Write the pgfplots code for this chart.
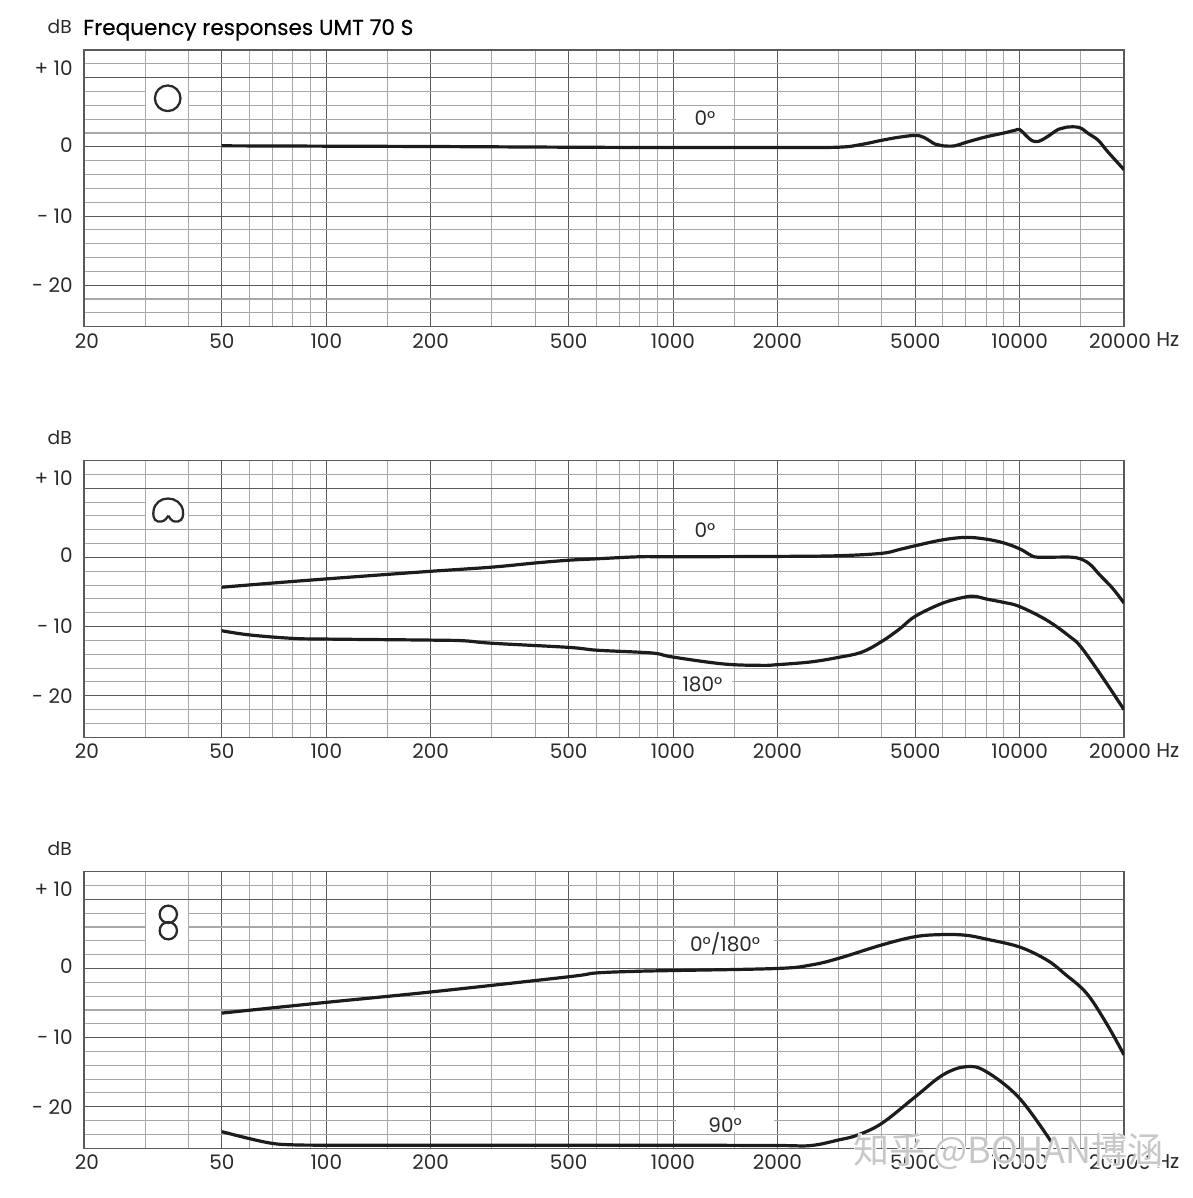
\documentclass[border=0pt]{standalone}
\usepackage{fontspec}
\setmainfont{Poppins}
\newfontfamily\titlefont[FakeBold=0.4]{Poppins}
\newfontfamily\wm{Noto Sans CJK SC}
\newfontfamily\wmhalo[FakeBold=4]{Noto Sans CJK SC}
\usepackage{pgfplots}
\pgfplotsset{compat=1.18}
\definecolor{gridmajor}{HTML}{5A5A5A}
\definecolor{gridminor}{HTML}{A8A8A8}
\definecolor{curve}{HTML}{1C1C1C}
\definecolor{ink}{HTML}{2A2A2A}

% all three panels share the same frame
\pgfplotsset{every axis/.append style={
    xmode=log,
    xmin=20, xmax=20000, ymin=-26, ymax=14,
    scale only axis, width=780pt, height=207.5pt,
    anchor=south west,
    xtick={20,50,100,200,500,1000,2000,5000,10000,20000},
    xticklabels={\kern4.5pt 20,50,100,200,500,1000,2000,5000,10000,20000\kern6pt},
    minor xtick={30,40,60,70,80,90,150,300,400,600,700,800,900,1500,3000,4000,6000,7000,8000,9000,15000},
    ytick={-20,-10,0,10},
    yticklabels={- 20,- 10,\raisebox{3pt}{0},\raisebox{15pt}{+\kern4pt 10}},
    minor ytick={-24,-22,-18,-16,-14,-12,-8,-6,-4,-2,2,4,6,8,12},
    grid=both,
    major grid style={draw=gridmajor,line width=0.75pt},
    minor grid style={draw=gridminor,line width=0.8pt},
    axis line style={draw=gridmajor,line width=1.1pt},
    major tick length=0pt, minor tick length=0pt,
    tick label style={font=\fontsize{15}{17}\selectfont\color{ink}},
    xticklabel style={yshift=-1.5pt},
    yticklabel style={xshift=-5pt},
}}
\pgfplotsset{rcurve/.style={draw=curve,line width=2.4pt,smooth,tension=0.6,mark=none}}
\tikzset{
    glabel/.style={font=\fontsize{15}{17}\selectfont\color{ink},inner sep=0pt},
    sym/.style={draw=ink,line width=1.7pt},
}

\begin{document}
\begin{tikzpicture}

\begin{axis}[at={(63pt,653.475pt)}]
\addplot[rcurve] coordinates {
 (50,0.15)(100,0.1)(200,0.05)(500,-0.05)(1000,-0.1)(2000,-0.1)(3000,-0.05)(3500,0.35)(4000,0.95)(4500,1.4)(5000,1.65)
 (5300,1.35)(5700,0.4)(6000,0.15)(6500,0.15)(7000,0.65)(8000,1.45)(9000,2.0)(9700,2.4)(10000,2.5)
 (10400,1.7)(10850,0.9)(11350,0.8)(12000,1.45)(12950,2.55)(13650,2.85)(14850,2.8)(15800,1.9)(16850,0.95)(17950,-0.7)(20000,-3.3)};
\fill[white] (axis cs:1020,2.3) rectangle (axis cs:1480,5.7);
\node[glabel] at (axis cs:1236,4.15) {0°};
\end{axis}

\begin{axis}[at={(63pt,345.525pt)}]
\addplot[rcurve] coordinates {
 (50,-4.3)(70,-3.7)(100,-3.1)(150,-2.45)(200,-2.0)(300,-1.4)(400,-0.8)(500,-0.4)(600,-0.2)(800,0.1)(1000,0.1)(2000,0.15)(3000,0.25)
 (4000,0.6)(4500,1.15)(5000,1.7)(6000,2.55)(7000,2.9)(8000,2.65)(9000,2.1)(10000,1.25)(10700,0.4)(11200,0.05)(13000,0.05)(14000,0.05)
 (15000,-0.2)(16000,-1.05)(17000,-2.5)(18500,-4.4)(20000,-6.6)};
\addplot[rcurve] coordinates {
 (50,-10.6)(60,-11.2)(80,-11.7)(100,-11.8)(200,-11.95)(250,-12.05)(300,-12.4)(500,-13.0)(600,-13.4)(800,-13.7)(900,-13.9)(1000,-14.4)
 (1400,-15.4)(1800,-15.6)(2000,-15.5)(2500,-15.1)(3000,-14.45)(3500,-13.7)(4000,-12.15)(4500,-10.35)(5000,-8.5)(6000,-6.6)(7000,-5.7)
 (7500,-5.65)(8000,-6.0)(9000,-6.5)(10000,-7.1)(12000,-9.1)(14000,-11.5)(15000,-12.9)(17000,-16.7)(20000,-22.0)};
\fill[white] (axis cs:1020,2.3) rectangle (axis cs:1480,5.7);
\fill[white] (axis cs:1020,-16.8) rectangle (axis cs:1480,-19.8);
\node[glabel] at (axis cs:1236,4.0) {0°};
\node[glabel] at (axis cs:1216,-18.3) {180°};
\end{axis}

\begin{axis}[at={(63pt,37.275pt)}]
\addplot[rcurve] coordinates {
 (50,-6.45)(100,-4.9)(200,-3.4)(500,-1.2)(600,-0.65)(800,-0.4)(1000,-0.3)(2000,0)(2500,0.5)(3000,1.45)(4000,3.4)(5000,4.6)(6000,4.9)
 (7000,4.8)(8000,4.25)(10000,3.1)(12000,1.2)(13500,-0.8)(15600,-3.6)(17800,-7.95)(20000,-12.5)};
\addplot[rcurve] coordinates {
 (50,-23.6)(60,-24.6)(70,-25.3)(80,-25.5)(100,-25.55)(200,-25.55)(500,-25.55)(1000,-25.55)(2000,-25.6)(2500,-25.6)(3000,-24.8)
 (3400,-24.1)(4000,-22.4)(5000,-18.55)(6000,-15.4)(7000,-14.2)(8000,-14.9)(10000,-18.8)(12500,-25.5)};
\fill[white] (axis cs:1020,2.2) rectangle (axis cs:1960,5.8);
\fill[white] (axis cs:1020,-20.5) rectangle (axis cs:1960,-23.7);
\node[glabel] at (axis cs:1414,3.5) {0°/180°};
\node[glabel] at (axis cs:1414,-22.6) {90°};
\end{axis}

\begin{scope}[x=0.75pt,y=-0.75pt,shift={(0pt,898.5pt)}]
\path[use as bounding box] (0,0) rectangle (1192,1198);

% polar pattern symbols, each on a white patch
\fill[white] (146,81) rectangle (187.6,113);
\draw[sym] (167.7,98.3) circle[radius=9.6pt];
\fill[white] (146,492) rectangle (187.6,527);
\draw[sym] (168.3,515.7) .. controls (165,521.5) and (162,522) .. (158,521.5)
  .. controls (153,520.5) and (153,514) .. (153.5,511)
  .. controls (154.5,503) and (161,498.5) .. (168,498.5)
  .. controls (175,498.5) and (182,503) .. (183,511)
  .. controls (183.5,515) and (183,520.5) .. (178,521.5)
  .. controls (174,522) and (171.5,521.5) .. (168.3,515.7);
\fill[white] (146,900) rectangle (187.6,945);
\draw[sym] (168.3,914.3) circle[radius=6.5pt];
\draw[sym] (168.3,930.7) circle[radius=6.5pt];

% texts outside the axes
\node[anchor=base east,inner sep=0pt,font=\fontsize{14}{16}\selectfont\color{ink}] at (72,34) {dB};
\node[anchor=base east,inner sep=0pt,font=\fontsize{14}{16}\selectfont\color{ink}] at (72,445) {dB};
\node[anchor=base east,inner sep=0pt,font=\fontsize{14}{16}\selectfont\color{ink}] at (72,856) {dB};
\node[anchor=base west,inner sep=0pt,font=\titlefont\fontsize{16.2}{18}\selectfont\color{black}] at (83,35) {Frequency responses UMT 70 S};
\node[anchor=base west,inner sep=0pt,font=\fontsize{15}{17}\selectfont\color{ink}] at (1156,347) {Hz};
\node[anchor=base west,inner sep=0pt,font=\fontsize{15}{17}\selectfont\color{ink}] at (1156,758) {Hz};
\node[anchor=base west,inner sep=0pt,font=\fontsize{15}{17}\selectfont\color{ink}] at (1156,1169) {Hz};

% site watermark
\node[anchor=base west,inner sep=0pt,font=\wmhalo\fontsize{27}{30}\selectfont,text=white] at (853,1164) {知乎 @BOHAN博涵};
\node[anchor=base west,inner sep=0pt,font=\wm\fontsize{27}{30}\selectfont,text=black!22] at (853,1164) {知乎 @BOHAN博涵};
\end{scope}
\end{tikzpicture}
\end{document}
